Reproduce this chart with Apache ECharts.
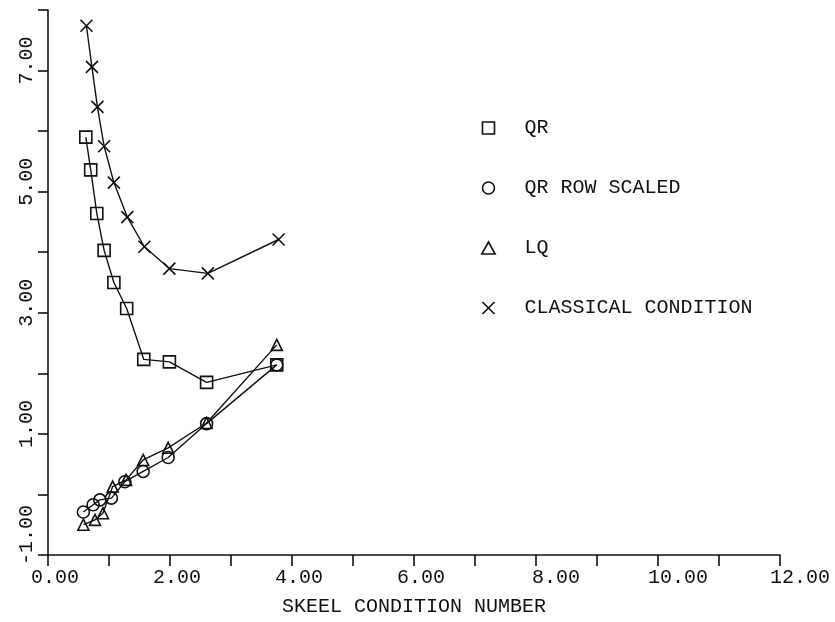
<!DOCTYPE html>
<html>
<head>
<meta charset="utf-8">
<script src="https://cdn.jsdelivr.net/npm/echarts@6/dist/echarts.min.js"></script>
<style>
  html, body { margin: 0; padding: 0; background: #fff; }
  #chart { width: 835px; height: 622px; }
</style>
</head>
<body>
<div id="chart"></div>
<script>
// ---- data ----
const seriesNames = ['QR', 'QR ROW SCALED', 'LQ', 'CLASSICAL CONDITION'];

const qrX = [0.62, 0.70, 0.80, 0.92, 1.08, 1.29, 1.57, 1.99, 2.60, 3.75];
const qrY = [5.90, 5.36, 4.64, 4.03, 3.50, 3.07, 2.23, 2.19, 1.85, 2.14];

const rowScaledX = [0.58, 0.74, 0.85, 1.04, 1.26, 1.56, 1.97, 2.60, 3.75];
const rowScaledY = [-0.29, -0.17, -0.09, -0.06, 0.21, 0.38, 0.61, 1.17, 2.14];

const lqX = [0.58, 0.77, 0.90, 1.06, 1.28, 1.56, 1.97, 2.60, 3.75];
const lqY = [-0.50, -0.42, -0.31, 0.13, 0.24, 0.57, 0.77, 1.18, 2.47];

const classicalX = [0.63, 0.72, 0.81, 0.92, 1.08, 1.30, 1.58, 1.99, 2.62, 3.78];
const classicalY = [7.74, 7.06, 6.40, 5.75, 5.15, 4.58, 4.09, 3.73, 3.65, 4.21];

const xTickValues = [0, 2, 4, 6, 8, 10, 12];     // labelled x ticks
const yTickValues = [-1, 1, 3, 5, 7];             // labelled y ticks
const xAxisTitle = 'SKEEL CONDITION NUMBER';

// ---- helpers ----
const FONT = '"Liberation Mono", "DejaVu Sans Mono", monospace';
const FS = 20;
const INK = '#111111';
const pair = (xs, ys) => xs.map((x, i) => [x, ys[i]]);

const SYM_RECT = 'path://M0,0H10V10H0Z';
const SYM_TRI = 'path://M5,0L10,9H0Z';
const SYM_X = 'path://M0,0L10,10M10,0L0,10';

function lineSeries(name, data, symbol, size) {
  return {
    name: name,
    type: 'line',
    data: data,
    symbol: symbol,
    symbolSize: size,
    showAllSymbol: true,
    smooth: false,
    lineStyle: { color: INK, width: 1.4 },
    itemStyle: { color: 'rgba(0,0,0,0)', borderColor: INK, borderWidth: 1.6 },
    emphasis: { disabled: true },
    animation: false,
    z: 3
  };
}

const chart = echarts.init(document.getElementById('chart'), null, { renderer: 'canvas' });

chart.setOption({
  backgroundColor: '#fff',
  animation: false,
  grid: { left: 48, right: 55, top: 10, bottom: 67, containLabel: false },
  legend: {
    orient: 'vertical',
    left: 481,
    top: 118,
    padding: 0,
    itemWidth: 62,
    itemHeight: 12,
    itemGap: 40,
    symbolKeepAspect: true,
    selectedMode: false,
    itemStyle: { color: 'rgba(0,0,0,0)', borderColor: INK, borderWidth: 1.6 },
    textStyle: { fontFamily: FONT, fontSize: FS, color: INK, lineHeight: 20 },
    data: [
      { name: seriesNames[0], icon: SYM_RECT },
      { name: seriesNames[1], icon: 'circle' },
      { name: seriesNames[2], icon: SYM_TRI },
      { name: seriesNames[3], icon: SYM_X }
    ]
  },
  xAxis: {
    type: 'value',
    min: 0,
    max: 12,
    interval: 1,
    name: xAxisTitle,
    nameLocation: 'middle',
    nameGap: 42,
    nameTextStyle: { fontFamily: FONT, fontSize: FS, color: INK },
    axisLine: { show: true, onZero: false, lineStyle: { color: INK, width: 1.6 } },
    axisTick: { show: true, length: 11, lineStyle: { color: INK, width: 1.6 } },
    splitLine: { show: false },
    axisLabel: {
      margin: 13,
      color: INK,
      fontFamily: FONT,
      fontSize: FS,
      formatter: function (v) {
        if (xTickValues.indexOf(v) < 0) return '';
        return (v >= 8 ? '{w|' : '{n|') + v.toFixed(2) + '}';
      },
      rich: {
        n: { fontFamily: FONT, fontSize: FS, color: INK, padding: [0, 0, 0, 14] },
        w: { fontFamily: FONT, fontSize: FS, color: INK, padding: [0, 0, 0, 40] }
      }
    }
  },
  yAxis: {
    type: 'value',
    min: -1,
    max: 8,
    interval: 1,
    axisLine: { show: true, onZero: false, lineStyle: { color: INK, width: 1.6 } },
    axisTick: { show: true, length: 10, lineStyle: { color: INK, width: 1.6 } },
    splitLine: { show: false },
    axisLabel: {
      rotate: 90,
      margin: 11,
      color: INK,
      fontFamily: FONT,
      fontSize: FS,
      formatter: function (v) {
        if (yTickValues.indexOf(v) < 0) return '';
        return (v < 0 ? '{w|' : '{n|') + v.toFixed(2) + '}';
      },
      rich: {
        n: { fontFamily: FONT, fontSize: FS, color: INK, padding: [0, 0, 0, 20] },
        w: { fontFamily: FONT, fontSize: FS, color: INK, padding: [0, 0, 0, 40] }
      }
    }
  },
  series: [
    lineSeries(seriesNames[0], pair(qrX, qrY), SYM_RECT, 12),
    lineSeries(seriesNames[1], pair(rowScaledX, rowScaledY), 'circle', 12),
    lineSeries(seriesNames[2], pair(lqX, lqY), SYM_TRI, 11),
    lineSeries(seriesNames[3], pair(classicalX, classicalY), SYM_X, 12)
  ]
});
</script>
</body>
</html>
